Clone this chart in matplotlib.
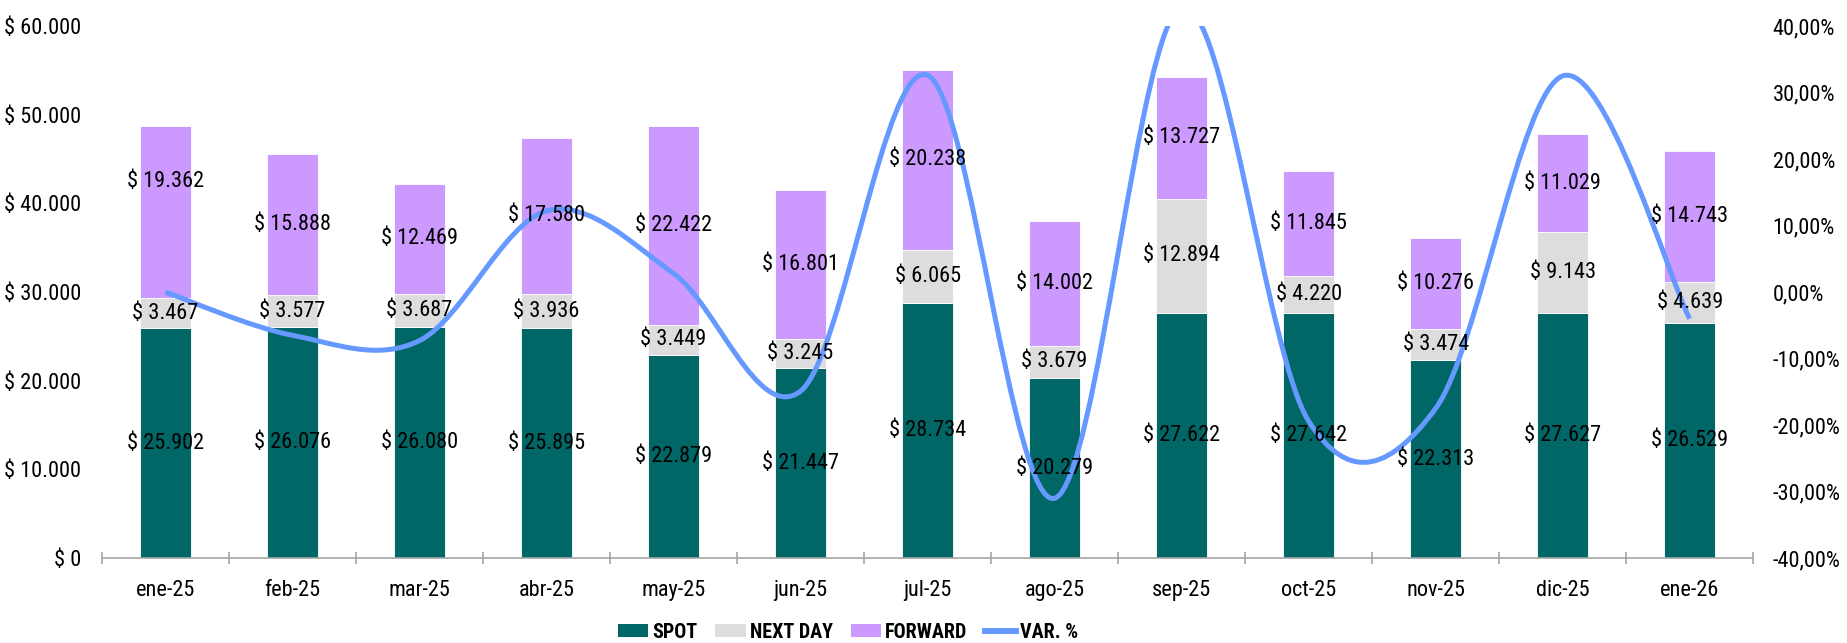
import matplotlib
matplotlib.use("Agg")
import matplotlib.pyplot as plt
from matplotlib import font_manager
import numpy as np
from matplotlib.path import Path
from matplotlib.patches import PathPatch, Patch
from matplotlib.lines import Line2D
from matplotlib.ticker import FuncFormatter, MultipleLocator, FixedLocator

# pick up a narrow sans if one is installed, else plain Liberation Sans
narrow = None
for f in font_manager.findSystemFonts():
    name = f.lower()
    if "narrow" in name or "condensed" in name:
        if "bold" in name or "italic" in name or "light" in name:
            continue
        font_manager.fontManager.addfont(f)
        narrow = font_manager.FontProperties(fname=f).get_name()
        if "liberation" in name or "arial" in name:
            break
for f in font_manager.findSystemFonts():
    if narrow and narrow.split()[0].lower() in f.lower() and "bold" in f.lower():
        font_manager.fontManager.addfont(f)

if narrow:
    plt.rcParams["font.family"] = [narrow, "DejaVu Sans"]
    FS = 16
else:
    plt.rcParams["font.family"] = ["Liberation Sans", "DejaVu Sans"]
    FS = 13.5

months = ["ene-25", "feb-25", "mar-25", "abr-25", "may-25", "jun-25", "jul-25",
          "ago-25", "sep-25", "oct-25", "nov-25", "dic-25", "ene-26"]
spot = [25902, 26076, 26080, 25895, 22879, 21447, 28734,
        20279, 27622, 27642, 22313, 27627, 26529]
next_day = [3467, 3577, 3687, 3936, 3449, 3245, 6065,
            3679, 12894, 4220, 3474, 9143, 4639]
forward = [19362, 15888, 12469, 17580, 22422, 16801, 20238,
           14002, 13727, 11845, 10276, 11029, 14743]
var_pct = [0.0, -6.5, -7.3, 12.2, 2.8, -14.9, 32.6,
           -31.0, 42.9, -19.4, -17.5, 32.5, -4.0]

SPOT_COLOR = "#006666"
ND_COLOR = "#DDDDDD"
FWD_COLOR = "#CC99FF"
LINE_COLOR = "#6699FF"


def money(v, pos=None):
    return "$ " + f"{int(round(v)):,}".replace(",", ".")


def pct(v, pos=None):
    return f"{v:.2f}%".replace(".", ",")


def smooth_path(x, y):
    # cubic bezier through every point, catmull-rom style tangents
    pts = np.column_stack([x, y]).astype(float)
    ext = np.vstack([pts[0], pts, pts[-1]])
    verts = [pts[0]]
    codes = [Path.MOVETO]
    for i in range(len(pts) - 1):
        p0, p1, p2, p3 = ext[i], ext[i + 1], ext[i + 2], ext[i + 3]
        verts += [p1 + (p2 - p0) / 6, p2 - (p3 - p1) / 6, p2]
        codes += [Path.CURVE4] * 3
    return Path(verts, codes)


fig = plt.figure(figsize=(18.47, 6.43), dpi=100)
ax = fig.add_axes([0.0552, 0.132, 0.894, 0.8275])
ax2 = ax.twinx()

x = np.arange(len(months))
width = 0.4
spot_a = np.array(spot)
nd_a = np.array(next_day)
fwd_a = np.array(forward)

ax.bar(x, spot_a, width, color=SPOT_COLOR, edgecolor="white", linewidth=0.6)
ax.bar(x, nd_a, width, bottom=spot_a, color=ND_COLOR, edgecolor="white", linewidth=0.6)
ax.bar(x, fwd_a, width, bottom=spot_a + nd_a, color=FWD_COLOR, edgecolor="white", linewidth=0.6)

ax.set_xlim(-0.5, len(months) - 0.5)
ax.set_ylim(0, 60000)
ax.yaxis.set_major_locator(MultipleLocator(10000))
ax.yaxis.set_major_formatter(FuncFormatter(money))
ax.tick_params(axis="y", length=0, pad=15, labelsize=FS)

# category boundaries get the tick marks, labels sit in the middle
ax.xaxis.set_major_locator(FixedLocator(np.arange(-0.5, len(months), 1.0)))
ax.xaxis.set_minor_locator(FixedLocator(x))
ax.set_xticklabels([], minor=False)
ax.set_xticklabels(months, minor=True)
ax.tick_params(axis="x", which="major", direction="inout", length=9,
               width=1.2, color="#A6A6A6")
ax.tick_params(axis="x", which="minor", length=0, pad=16, labelsize=FS)

for s in ["top", "left", "right"]:
    ax.spines[s].set_visible(False)
    ax2.spines[s].set_visible(False)
ax.spines["bottom"].set_color("#A6A6A6")
ax.spines["bottom"].set_linewidth(1.2)
ax2.spines["bottom"].set_visible(False)

ax2.set_ylim(-40, 40)
ax2.yaxis.set_major_locator(MultipleLocator(10))
ax2.yaxis.set_major_formatter(FuncFormatter(pct))
ax2.tick_params(axis="y", length=0, pad=14, labelsize=FS)

curve = PathPatch(smooth_path(x, var_pct), facecolor="none",
                  edgecolor=LINE_COLOR, linewidth=3.6, zorder=2)
ax2.add_patch(curve)

# value labels drawn on top of the line
for i in range(len(months)):
    segs = [(0, spot_a[i]), (spot_a[i], nd_a[i]), (spot_a[i] + nd_a[i], fwd_a[i])]
    for j, (base, val) in enumerate(segs):
        yc = base + val / 2
        if i == 0 and j == 2:
            yc += 3400
        ax2.text(x[i], yc, money(val), transform=ax.transData,
                 ha="center", va="center", fontsize=FS, color="black", zorder=5)

handles = [
    Patch(facecolor=SPOT_COLOR, label="SPOT"),
    Patch(facecolor=ND_COLOR, label="NEXT DAY"),
    Patch(facecolor=FWD_COLOR, label="FORWARD"),
    Line2D([], [], color=LINE_COLOR, linewidth=4.3, label="VAR. %"),
]
fig.legend(handles=handles, loc="center", bbox_to_anchor=(0.459, 0.017),
           ncol=4, frameon=False, prop={"size": FS - 1.5, "weight": "bold"},
           handlelength=1.5, handleheight=0.6, handletextpad=0.2,
           columnspacing=0.9, borderpad=0.2)

fig.savefig("out.png", dpi=100)
